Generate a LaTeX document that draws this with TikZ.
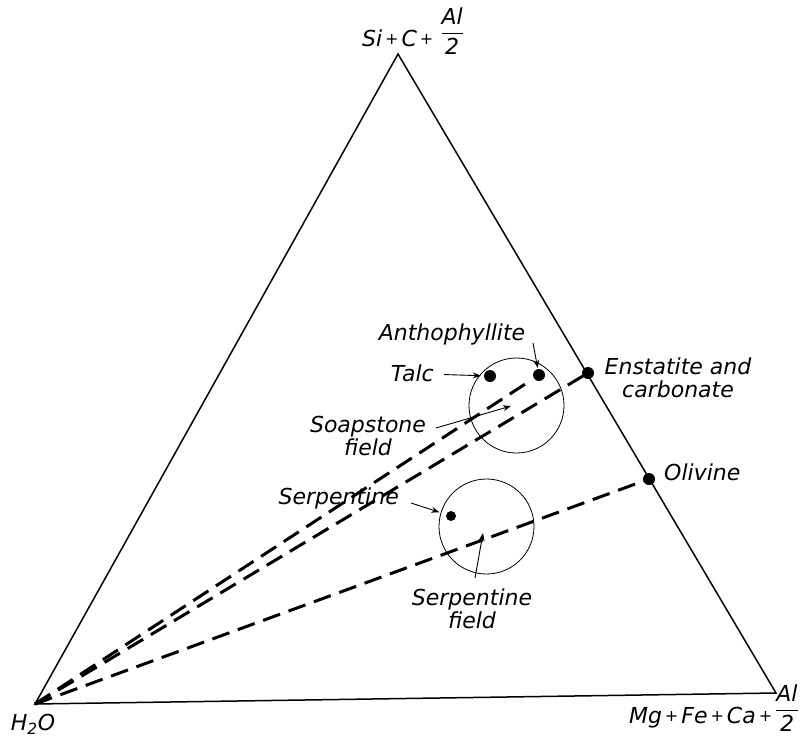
\documentclass[tikz,border=0pt]{standalone}
\usepackage{fontspec}
\setmainfont{DejaVu Sans}
\usepackage{amsmath}
\usetikzlibrary{arrows.meta}
\newcommand{\pl}{\hspace{3pt}{\fontsize{16}{16}\selectfont\raisebox{1.5pt}{+}}\hspace{3pt}}
\newcommand{\halfal}{\raisebox{7pt}{$\genfrac{}{}{1.2pt}{0}{\text{Al}}{\text{2}}$}}

\begin{document}
\begin{tikzpicture}[
    x=1pt, y=-1pt,
    lbl/.style={font=\fontsize{22}{23}\selectfont\itshape, inner sep=1pt},
    dot/.style={circle, fill, inner sep=0pt, minimum size=12pt},
    tie/.style={line width=3pt, dash pattern=on 18pt off 9pt},
    ptr/.style={line width=0.9pt, -{Stealth[length=8pt, width=6pt]}},
    fld/.style={circle, draw, line width=0.8pt, inner sep=0pt, minimum size=95pt}
]
    \useasboundingbox[fill=white] (0,0) rectangle (804,737);

    % corners of the diagram
    \coordinate (h2o) at (35,704);
    \coordinate (si) at (398,54);
    \coordinate (mg) at (776,693);
    \draw[line width=1.5pt] (h2o) -- (si) -- (mg) -- cycle;

    \node[lbl, anchor=base] (silbl) at (413,46) {Si\pl C\pl\hspace{4pt}\halfal};
    \node[lbl] (h2olbl) at (33,724) {H\textsubscript{2}O};
    \node[lbl, anchor=base east] (mglbl) at (800,723) {Mg\pl Fe\pl Ca\pl\halfal};

    % fields
    \node[fld] (soapfld) at (516.5,405.5) {};
    \node[fld] (serpfld) at (486.5,526.5) {};

    % minerals
    \node[dot] (talc) at (490,376) {};
    \node[dot] (anth) at (539,375) {};
    \node[dot] (enst) at (588,373) {};
    \node[dot] (oliv) at (649,479) {};
    \node[dot, minimum size=10pt] (serp) at (451,516) {};

    \draw[tie] (h2o) -- (enst.center);
    \draw[tie, shorten >=8pt] (h2o) -- (anth.center);
    \draw[tie] (h2o) -- (oliv.center);

    \node[lbl, anchor=mid] (anthlbl) at (452,338) {Anthophyllite};
    \node[lbl, anchor=mid east] (talclbl) at (435,379) {Talc};
    \node[lbl, align=center] (soaplbl) at (368,436) {Soapstone\\field};
    \node[lbl, anchor=mid east] (serplbl) at (400,502) {Serpentine};
    \node[lbl, align=center] (serpfldlbl) at (472,609) {Serpentine\\field};
    \node[lbl, align=center] (enstlbl) at (678,378) {Enstatite and\\carbonate};
    \node[lbl, anchor=mid west] (olivlbl) at (663,478) {Olivine};

    % pointers
    \coordinate (anthtail) at (533,343);
    \coordinate (soaptail) at (436,428);
    \coordinate (soapmark) at (511,406);
    \coordinate (serptail) at (411,503);
    \coordinate (fldtail) at (475,578);
    \coordinate (fldmark) at (483,533);
    \draw[ptr, shorten >=1pt] (anthtail) -- (anth);
    \draw[ptr, shorten <=9pt, shorten >=3pt] (talclbl) -- (talc);
    \draw[ptr] (soaptail) -- (soapmark);
    \draw[ptr, shorten >=7pt] (serptail) -- (serp);
    \draw[ptr] (fldtail) -- (fldmark);
\end{tikzpicture}
\end{document}
